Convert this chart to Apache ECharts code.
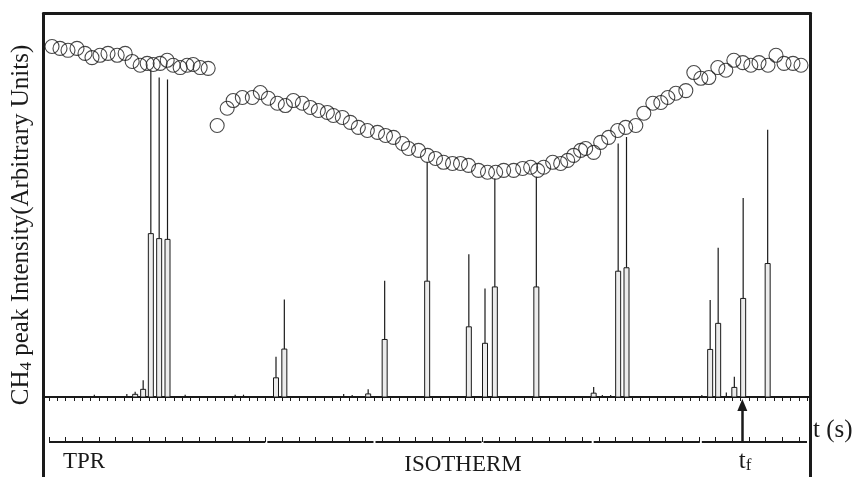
<!DOCTYPE html>
<html>
<head>
<meta charset="utf-8">
<script src="https://cdn.jsdelivr.net/npm/echarts@6/dist/echarts.min.js"></script>
<style>
  html, body { margin: 0; background: #fff; }
  #chart { width: 865px; height: 477px; }
</style>
</head>
<body>
<div id="chart"></div>
<script>
// time in s (arbitrary origin), intensity in arbitrary units, 0 = baseline
var tMax = 456;

// open circles, first run (TPR part)
var tprCircles = [
  [1.8, 91.4], [6.6, 90.9], [11.4, 90.4], [16.8, 90.9], [21.6, 89.6], [25.8, 88.5],
  [30.6, 89.1], [35.4, 89.6], [40.9, 89.1], [45.7, 89.6], [49.9, 87.5], [54.7, 86.5],
  [58.9, 87.0], [62.5, 86.7], [66.7, 87.0], [70.9, 87.8], [74.5, 86.5], [78.7, 85.9],
  [82.9, 86.5], [86.5, 86.7], [90.7, 85.9], [95.5, 85.7]
];

// open circles, second run (isotherm)
var isoCircles = [
  [100.9, 70.8], [106.9, 75.3], [110.5, 77.3], [116.0, 78.1], [122.0, 78.1], [126.8, 79.4],
  [131.6, 77.9], [137.0, 76.6], [141.8, 76.0], [146.6, 77.3], [152.0, 76.6], [156.8, 75.5],
  [161.6, 74.7], [167.0, 74.2], [170.6, 73.4], [176.0, 72.9], [180.8, 71.6], [185.6, 70.3],
  [191.0, 69.5], [197.1, 69.0], [201.9, 68.2], [206.7, 67.7], [212.1, 66.1], [215.7, 64.8],
  [221.7, 64.3], [227.1, 63.0], [231.9, 62.2], [236.7, 61.2], [242.1, 60.9], [246.9, 60.9],
  [251.7, 60.4], [257.7, 59.1], [263.1, 58.6], [268.0, 58.6], [272.8, 59.1], [278.8, 59.1],
  [284.2, 59.6], [289.0, 59.9], [293.2, 59.1], [296.8, 59.9], [302.2, 61.2], [307.0, 60.9],
  [311.2, 61.7], [314.8, 63.0], [319.0, 64.3], [322.0, 64.8], [326.8, 63.8], [331.0, 66.4],
  [335.8, 67.7], [341.2, 69.5], [346.0, 70.3], [352.1, 70.8], [356.9, 74.0], [362.3, 76.6],
  [367.1, 76.8], [371.3, 78.1], [376.1, 79.2], [382.1, 79.9], [386.9, 84.6], [391.1, 83.1],
  [395.9, 83.3], [401.3, 85.9], [406.1, 85.2], [410.9, 87.8], [416.3, 87.2], [421.1, 86.5],
  [426.0, 87.2], [431.4, 86.5], [436.2, 89.1], [441.0, 87.0], [446.4, 87.0], [451.2, 86.5]
];

// CH4 peaks: [time, shoulder height, tip height]
var peaks = [
  [27.2, 0, 0.6], [46.7, 0, 0.8], [51.7, 0.7, 1.4], [56.5, 2.0, 4.4],
  [61.1, 42.6, 85.2], [66.1, 41.3, 83.3], [71.1, 41.1, 82.8],
  [81.7, 0, 0.6], [111.7, 0, 0.6], [116.7, 0, 0.6],
  [136.2, 5.0, 10.5], [141.2, 12.5, 25.4],
  [176.8, 0, 0.8], [181.9, 0, 0.5], [191.5, 0.8, 2.0],
  [201.4, 15.0, 30.3], [226.9, 30.2, 61.2],
  [251.9, 18.3, 37.2], [261.6, 14.0, 28.3], [267.5, 28.7, 57.0], [292.4, 28.7, 57.4],
  [326.8, 1.0, 2.6], [332.0, 0, 0.5], [337.0, 0, 0.5],
  [341.5, 32.8, 66.1], [346.5, 33.7, 67.8],
  [391.7, 0, 0.5], [396.7, 12.4, 25.3], [401.5, 19.2, 38.9], [406.4, 0, 1.2],
  [411.2, 2.5, 5.3], [416.5, 25.7, 51.9], [431.2, 34.8, 69.7]
];

// time-line pieces under the plot
var timelineSegs = [
  [0, 129.8], [131.0, 194.7], [195.9, 259.5], [260.7, 325.6], [326.8, 390.5], [391.7, 454.8]
];
var tprEnd = 64.3;
var tfTime = 416;

var ink = '#1a1a1a';
var serif = '"Liberation Serif", "Times New Roman", serif';

var chart = echarts.init(document.getElementById('chart'));

// one peak = narrow outlined bar up to the shoulder + thin line up to the tip
function renderPeak(params, api) {
  var t = api.value(0);
  var base = api.coord([t, 0]);
  var mid = api.coord([t, api.value(1)]);
  var tip = api.coord([t, api.value(2)]);
  var kids = [{
    type: 'line',
    shape: { x1: base[0], y1: mid[1], x2: base[0], y2: tip[1] },
    style: { stroke: ink, lineWidth: 1.2 }
  }];
  if (api.value(1) > 0) {
    kids.push({
      type: 'rect',
      shape: { x: base[0] - 2.5, y: mid[1], width: 5, height: base[1] - mid[1] },
      style: { fill: '#ececec', stroke: ink, lineWidth: 1 }
    });
  }
  return { type: 'group', children: kids };
}

var hidden = { show: false };
var frameLine = function (w) {
  return { show: true, onZero: false, lineStyle: { color: ink, width: w } };
};

var series = timelineSegs.map(function (s) {
  return {
    type: 'line',
    xAxisIndex: 2,
    yAxisIndex: 3,
    data: [[s[0], 0], [s[1], 0]],
    symbol: 'none',
    silent: true,
    lineStyle: { color: ink, width: 2 }
  };
});

// t_f arrow and the TPR/isotherm divider
series[0].markLine = {
  silent: true,
  label: { show: false },
  data: [
    [{ coord: [tfTime, 0], symbol: 'none' }, { coord: [tfTime, 37], symbol: 'triangle', symbolSize: [10, 12] }],
    [{ coord: [tprEnd, 0], symbol: 'none' }, { coord: [tprEnd, -40], symbol: 'none' }]
  ],
  lineStyle: { color: ink, width: 2.5, type: 'solid' }
};

series.push({
  type: 'custom',
  xAxisIndex: 1,
  yAxisIndex: 2,
  renderItem: renderPeak,
  data: peaks,
  z: 3,
  silent: true
});

series.push({
  type: 'scatter',
  xAxisIndex: 1,
  yAxisIndex: 2,
  data: tprCircles.concat(isoCircles),
  symbol: 'circle',
  symbolSize: 14,
  itemStyle: { color: 'rgba(0,0,0,0)', borderColor: ink, borderWidth: 1.1 },
  z: 4,
  silent: true
});

var option = {
  backgroundColor: '#fff',
  animation: false,
  grid: [
    { left: 43.5, right: 54.5, top: 13.5, bottom: 0 },   // frame
    { left: 49, right: 56, top: 13.5, bottom: 80 },      // peaks + circles
    { left: 49, right: 56, top: 397, bottom: 0 }         // time line
  ],
  xAxis: [
    { gridIndex: 0, type: 'value', position: 'top', min: 0, max: 1,
      axisLine: frameLine(3), axisTick: hidden, axisLabel: hidden, splitLine: hidden },
    { gridIndex: 1, type: 'value', min: 0, max: tMax, interval: 5,
      axisLine: { show: false }, axisTick: { show: true, length: 4, lineStyle: { color: ink, width: 1 } },
      axisLabel: hidden, splitLine: hidden },
    { gridIndex: 2, type: 'value', min: 0, max: tMax, interval: 10,
      axisLine: { show: false, onZero: true },
      axisTick: { show: true, inside: true, length: 5, lineStyle: { color: ink, width: 1 } },
      axisLabel: hidden, splitLine: hidden },
    { gridIndex: 0, type: 'value', position: 'bottom', offset: -80, min: 0, max: 1,
      axisLine: frameLine(2), axisTick: hidden, axisLabel: hidden, splitLine: hidden }
  ],
  yAxis: [
    { gridIndex: 0, type: 'value', position: 'left', min: 0, max: 1,
      axisLine: frameLine(3), axisTick: hidden, axisLabel: hidden, splitLine: hidden },
    { gridIndex: 0, type: 'value', position: 'right', min: 0, max: 1,
      axisLine: frameLine(3), axisTick: hidden, axisLabel: hidden, splitLine: hidden },
    { gridIndex: 1, type: 'value', min: 0, max: 100, show: false },
    { gridIndex: 2, type: 'value', min: -35, max: 45, show: false }
  ],
  graphic: [
    { type: 'text', x: 21, y: 225, rotation: Math.PI / 2,
      style: {
        text: '{a|CH}{s|4}{a| peak Intensity(Arbitrary Units)}',
        align: 'center', verticalAlign: 'middle',
        rich: {
          a: { fontFamily: serif, fontSize: 25, fill: ink, lineHeight: 28 },
          s: { fontFamily: serif, fontSize: 17, fill: ink, verticalAlign: 'bottom', lineHeight: 22 }
        }
      } },
    { type: 'text', x: 84, y: 462,
      style: { text: 'TPR', fontFamily: serif, fontSize: 23, fill: ink, align: 'center', verticalAlign: 'middle' } },
    { type: 'text', x: 463, y: 465,
      style: { text: 'ISOTHERM', fontFamily: serif, fontSize: 23, fill: ink, align: 'center', verticalAlign: 'middle' } },
    { type: 'text', x: 813, y: 430,
      style: { text: 't (s)', fontFamily: serif, fontSize: 25, fill: ink, align: 'left', verticalAlign: 'middle' } },
    { type: 'text', x: 745, y: 461,
      style: {
        text: '{a|t}{s|f}', align: 'center', verticalAlign: 'middle',
        rich: {
          a: { fontFamily: serif, fontSize: 25, fill: ink, lineHeight: 26 },
          s: { fontFamily: serif, fontSize: 17, fill: ink, verticalAlign: 'bottom', lineHeight: 20 }
        }
      } }
  ],
  series: series
};

chart.setOption(option);
</script>
</body>
</html>
